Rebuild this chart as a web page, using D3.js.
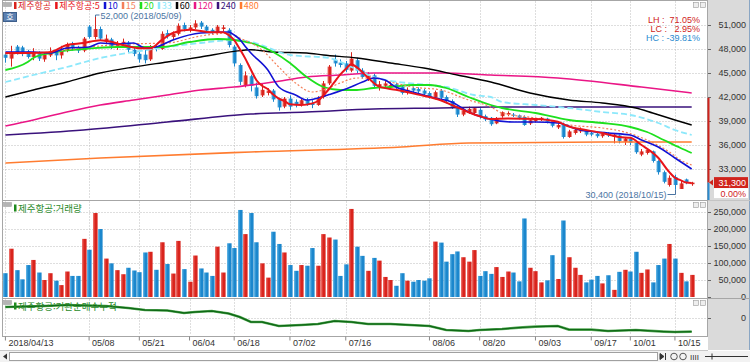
<!DOCTYPE html>
<html lang="ko">
<head>
<meta charset="utf-8">
<title>제주항공 일봉</title>
<style>
  body { margin: 0; background: #fff; }
  svg { display: block; }
  text { font-family: "Liberation Sans", Arial, sans-serif; }
  .kr { font-family: "Noto Sans CJK KR", sans-serif; }
</style>
<script src="https://d3js.org/d3.v7.min.js"></script>
</head>
<body>
<script>
// trading days shown (2018)
const dates = ["04/13","04/16","04/17","04/18","04/19","04/20","04/23","04/24","04/25","04/26","04/27","04/30",
  "05/02","05/03","05/04","05/08","05/09","05/10","05/11","05/14","05/15","05/16","05/17","05/18","05/21","05/23","05/24","05/25","05/28","05/29","05/30","05/31",
  "06/01","06/04","06/05","06/07","06/08","06/11","06/12","06/14","06/15","06/18","06/19","06/20","06/21","06/22","06/25","06/26","06/27","06/28","06/29",
  "07/02","07/03","07/04","07/05","07/06","07/09","07/10","07/11","07/12","07/13","07/16","07/17","07/18","07/19","07/20","07/23","07/24","07/25","07/26","07/27","07/30","07/31",
  "08/01","08/02","08/03","08/06","08/07","08/08","08/09","08/10","08/13","08/14","08/16","08/17","08/20","08/21","08/22","08/23","08/24","08/27","08/28","08/29","08/30","08/31",
  "09/03","09/04","09/05","09/06","09/07","09/10","09/11","09/12","09/13","09/14","09/17","09/18","09/19","09/20","09/21","09/27","09/28",
  "10/01","10/02","10/04","10/05","10/08","10/10","10/11","10/12","10/15","10/16","10/17","10/18"];

const opens = [47300,46800,48300,48200,47700,47000,47500,46700,47200,47700,47200,47800,
  48600,48200,47800,50800,49500,50500,48900,49200,48200,48600,48800,47900,47400,47300,46700,48300,48000,50000,49500,49900,
  51000,50400,50700,51300,50800,50400,50000,50500,50400,48300,46000,43500,44600,43200,42200,42500,42800,41800,40800,
  41800,41400,41000,41600,41200,41000,42000,43700,46600,46300,46200,45300,46600,45300,44200,44700,43300,43400,43200,43600,43300,42500,
  43100,43000,42800,42500,41900,42800,42000,41500,40700,39800,40100,40000,40400,39600,39400,38700,39600,39800,39800,39700,39500,38700,
  39000,39200,39300,38900,38200,38600,37000,37500,37700,37800,37500,37400,37100,37400,37000,37200,36400,
  36800,36300,34800,35000,35200,34000,32600,31000,32000,30500,31700,31100];
const highs = [47500,48400,48500,48400,47900,48100,47700,47600,48200,47900,48400,48800,
  48900,48400,49500,51000,52000,50800,49800,49400,49000,49300,49000,48200,47600,47900,48500,48600,50200,50400,50200,51200,
  51300,51000,51600,51500,51000,50600,51000,51000,50600,48500,46200,45200,44800,43800,43700,43100,43000,41900,42000,
  42200,41700,41800,41900,41600,42100,44000,46000,47300,46700,46500,47600,46900,45600,45100,44900,44000,44000,43900,43800,43500,43200,
  43300,43200,43000,42700,42800,43000,42200,41700,40900,40600,40800,40700,40600,39800,39500,39500,40200,40200,40000,39800,39700,39200,
  39400,39500,39400,39000,38700,38800,37900,38100,38200,37900,37700,37600,37600,37600,37400,37300,37000,
  37000,36400,35500,35600,35300,34100,32800,32200,32300,31500,31800,31400];
const lows = [46300,45800,47300,47100,46800,46600,46500,46400,47000,46600,46800,47600,
  47800,47500,47600,49300,49200,49000,48600,48000,47900,48300,47600,47100,46300,46200,46500,47700,47900,49300,49100,49700,
  50200,50100,50500,50500,50000,49800,49800,50200,48200,45800,43500,43200,42700,41800,42000,42200,41400,40300,40600,
  40400,40700,40800,40900,40600,40900,41800,43500,45800,45700,45100,45100,45000,44300,44000,43100,42800,43200,43000,43000,42300,42300,
  42600,42500,42200,41800,41700,41700,41200,40500,39500,39600,39900,39800,39300,39000,38400,38600,39400,39600,39500,39200,38400,38500,
  38800,39000,38700,38200,38000,36800,36900,37300,37500,37100,37100,36900,36900,37000,36200,36200,36000,
  36000,34900,34600,34800,33800,32300,31200,30800,30400,30500,31100,30900];
const closes = [46900,47600,47500,47500,47000,47500,46800,47300,47700,47200,47800,48600,
  48100,47800,49300,49500,50500,49300,49300,48300,48700,48900,47900,47400,46700,46600,48200,48000,49900,49600,49900,50900,
  50500,50700,51200,50800,50300,50000,50800,50700,48500,46200,43900,44700,43400,42100,42900,42800,41700,40700,41800,
  40800,41000,41600,41100,41000,41800,43700,45800,46200,46000,45400,46800,45300,44500,44700,43400,43600,43700,43500,43200,42500,42900,
  42800,42700,42400,42000,42600,41900,41500,40700,39800,40300,40500,40600,39500,39200,38600,39300,40100,40000,39700,39400,38500,39100,
  39300,39400,38900,38400,38500,37000,37700,37900,37900,37300,37300,37100,37400,37200,37300,36500,36800,
  36300,35100,35200,35400,34000,32600,31400,31900,31000,31200,31300,31300];
const volumes = [70,142,79,52,94,109,72,50,70,48, 35,75,62,62,171,139,247,200,113,99,
  79,67,86,78,73,131,133,80,161,97, 69,165,82,45,122,84,72,62,148,72,
  158,144,256,185,247,161,99,57,192,156, 131,94,77,94,92,144,92,185,175,169,
  62,96,259,148,121,77,115,107,59,50, 33,70,48,45,50,48,55,163,160,104,
  126,134,117,104,138,62,76,68,88,59, 75,72,46,231,86,76,43,49,123,53,
  225,117,86,65,43,51,62,40,64,21, 74,80,75,133,71,81,43,94,113,156,
  113,71,46,65].map(v => v * 1000);

// moving averages: [date, price]
const ma5 = [["04/13",47500],["04/19",47500],["04/25",47600],["04/30",48500],["05/04",48750],["05/10",49100],["05/14",48900],["05/16",48500],["05/21",48100],["05/24",48100],["05/28",49100],["05/30",50000],["06/04",50400],["06/11",50100],["06/14",50100],["06/15",49750],["06/18",49100],["06/19",48000],["06/20",46800],["06/21",45400],["06/22",44100],["06/25",43400],["06/26",43000],["06/27",42300],["06/28",41800],["06/29",41500],["07/02",41100],["07/04",41000],["07/06",41200],["07/09",41500],["07/10",42200],["07/11",43000],["07/12",43900],["07/13",44800],["07/16",45500],["07/17",46100],["07/18",45700],["07/20",44400],["07/24",43300],["07/27",42900],["08/02",42300],["08/08",41600],["08/10",41000],["08/16",40100],["08/20",39600],["08/22",39250],["08/27",39300],["09/03",39250],["09/07",38900],["09/11",38300],["09/13",38000],["09/19",37500],["09/27",37000],["10/01",36900],["10/04",36000],["10/10",34400],["10/12",32600],["10/15",31900],["10/16",31600],["10/17",31300],["10/18",31250]];
const ma10 = [["04/13",47625],["04/20",47625],["04/25",47500],["04/30",48125],["05/08",48250],["05/10",48750],["05/15",48625],["05/18",48750],["05/23",48125],["05/25",48250],["05/30",49125],["06/07",50000],["06/15",50125],["06/18",49750],["06/19",49200],["06/20",48300],["06/21",47500],["06/26",45400],["06/28",43250],["07/03",42250],["07/05",41625],["07/09",41875],["07/11",42300],["07/16",43000],["07/19",43875],["07/23",44375],["07/25",44125],["07/27",43250],["08/01",42625],["08/07",41875],["08/10",41375],["08/16",40125],["08/21",39375],["08/28",38875],["09/03",38875],["09/07",38750],["09/13",37875],["09/20",37500],["10/01",37250],["10/04",36625],["10/10",35750],["10/15",34375],["10/18",33000]];
const ma15 = [["04/13",47375],["04/25",47625],["05/08",48250],["05/17",48625],["05/29",48750],["06/07",49625],["06/15",50000],["06/19",49375],["06/25",47875],["06/28",45750],["07/03",43750],["07/06",42625],["07/10",42875],["07/13",43750],["07/18",44375],["07/23",44375],["07/26",43875],["08/01",43250],["08/08",42875],["08/16",41625],["08/22",40750],["08/24",40000],["09/03",39375],["09/11",38500],["09/19",38125],["09/28",37625],["10/05",36625],["10/12",35125],["10/16",34125],["10/18",33500]];
const ma20 = [["04/13",45375],["04/19",46375],["04/20",46875],["04/25",47500],["05/04",48000],["05/15",48250],["05/28",48250],["06/04",48875],["06/12",49250],["06/18",49125],["06/21",48750],["06/27",47625],["07/02",46250],["07/05",44500],["07/10",43250],["07/13",42875],["07/18",42875],["07/23",43125],["07/26",43250],["08/01",43500],["08/06",43500],["08/09",43125],["08/16",42000],["08/22",41000],["08/24",40625],["09/03",40000],["09/11",39125],["09/19",38750],["10/01",38250],["10/05",37625],["10/11",36625],["10/16",35625],["10/18",35000]];
const ma33 = [["04/13",43875],["04/20",44750],["04/30",45750],["05/10",46875],["05/18",47625],["05/29",48250],["06/07",48750],["06/18",49125],["06/21",48875],["07/02",47250],["07/11",46875],["07/17",45750],["07/23",44500],["07/31",43750],["08/06",43500],["08/09",43250],["08/17",42250],["08/22",42000],["08/24",41375],["09/03",41000],["09/11",40625],["09/19",40125],["10/01",39750],["10/10",38750],["10/15",37875],["10/18",37250]];
const ma60 = [["04/13",42000],["04/20",42875],["04/30",43875],["05/10",45000],["05/18",45750],["05/29",46375],["06/07",47000],["06/18",47700],["06/21",47900],["06/27",47625],["07/05",47500],["07/10",47250],["07/18",46875],["07/26",46250],["08/03",45625],["08/13",44750],["08/22",43875],["08/31",42500],["09/11",41625],["09/19",41250],["10/02",40625],["10/08",40000],["10/15",39125],["10/18",38500]];
const ma120 = [["04/13",38375],["04/20",39125],["04/30",40125],["05/10",41000],["05/18",41625],["05/29",42250],["06/07",42875],["06/18",43250],["06/27",43875],["07/05",44500],["07/13",44750],["07/23",45000],["07/31",45000],["08/08",45000],["08/22",44750],["09/07",44375],["10/04",43250],["10/18",42500]];
const ma240 = [["04/13",37250],["05/04",37875],["05/29",38875],["06/21",39875],["07/05",40125],["07/23",40500],["08/08",40625],["08/22",40750],["09/19",40750],["10/18",40750]];
const ma480 = [["04/13",33750],["05/10",34375],["06/21",35125],["07/30",35750],["08/16",36250],["09/19",36375],["10/18",36375]];

// 기관순매수누적 (cumulative institutional net buying, shares)
const instCum = [["04/13",55000],["04/24",60000],["04/30",65000],["05/11",60000],["05/17",50000],["05/23",40000],["05/29",37500],["06/01",25000],["06/05",30000],["06/11",35000],["06/15",22500],["06/19",5000],["06/21",-20000],["06/25",-20000],["06/28",-40000],["07/04",-35000],["07/09",-30000],["07/12",-15000],["07/17",-20000],["07/20",-30000],["07/26",-30000],["08/06",-40000],["08/09",-60000],["08/16",-65000],["08/20",-60000],["08/24",-55000],["08/29",-48000],["09/03",-43000],["09/07",-40000],["09/11",-58000],["09/17",-58000],["09/20",-65000],["10/02",-60000],["10/11",-68000],["10/15",-70000],["10/18",-68000]];

const tickDates  = ["04/13","05/08","05/21","06/04","06/18","07/02","07/16","08/06","08/20","09/03","09/17","10/01","10/15"];
const tickLabels = ["2018/04/13","05/08","05/21","06/04","06/18","07/02","07/16","08/06","08/20","09/03","09/17","10/01","10/15"];
const priceTicks  = [33000,36000,39000,42000,45000,48000,51000];
const volumeTicks = [0,50000,100000,150000,200000,250000];
const instTicks   = [0];

const red = '#d9241d', blue = '#1b87cd', gridColor = '#bdbdbd';

const maSeries = [
  { label: '480', data: ma480, color: '#ff7c30', width: 1.6 },
  { label: '240', data: ma240, color: '#3a127c', width: 1.6 },
  { label: '120', data: ma120, color: '#ea1686', width: 1.6 },
  { label: '60',  data: ma60,  color: '#000000', width: 1.4 },
  { label: '33',  data: ma33,  color: '#8ce8fb', width: 1.8, dash: '6,3' },
  { label: '20',  data: ma20,  color: '#1ee01e', width: 1.8 },
  { label: '15',  data: ma15,  color: '#f4805a', width: 1.2, dash: '2,2' },
  { label: '10',  data: ma10,  color: '#1212d4', width: 1.6 },
  { label: '5',   data: ma5,   color: '#e8141a', width: 2 }
];

const plotL = 2.5, plotR = 707.5, axisL = 708;
const mainP = { top: 0.5, bottom: 200.5 },
      volP  = { top: 200.5, bottom: 298.5 },
      instP = { top: 298.5, bottom: 336.5 };

const svg = d3.select('body').append('svg').attr('width', 750).attr('height', 362);

svg.append('rect').attr('width', 750).attr('height', 362).attr('fill', '#fff');
svg.append('rect').attr('x', axisL).attr('y', 0).attr('width', 42).attr('height', 350).attr('fill', '#dadada');
svg.append('line').attr('x1', 749.5).attr('x2', 749.5).attr('y1', 0).attr('y2', 350).attr('stroke', '#8aa6c4');

const defs = svg.append('defs');
[['gRed', '#f07a74', red], ['gBlue', '#6cbbe8', blue]].forEach(([id, c0, c1]) => {
  const g = defs.append('linearGradient').attr('id', id);
  g.append('stop').attr('offset', '0%').attr('stop-color', c0);
  g.append('stop').attr('offset', '45%').attr('stop-color', c1);
  g.append('stop').attr('offset', '100%').attr('stop-color', c1);
});

const x = d3.scaleBand().domain(dates).range([3.4, 693.7]).paddingInner(0.28);
const cx = d => x(d) + x.bandwidth() / 2;
const y = d3.scaleLinear().domain([33000, 51000]).range([169, 25]);
const yVol = d3.scaleLinear().domain([0, 250000]).range([297, 212]);
const yInst = d3.scaleLinear().domain([-85000, 90000]).range([335, 300]);

// panel frames + grids
[mainP, volP, instP].forEach((p, k) => {
  svg.append('rect').attr('x', plotL).attr('y', p.top).attr('width', plotR - plotL).attr('height', p.bottom - p.top)
    .attr('fill', 'none').attr('stroke', '#a6a6a6');
  svg.append('g').selectAll('line').data(tickDates).join('line')
    .attr('x1', d => Math.round(cx(d)) + 0.5).attr('x2', d => Math.round(cx(d)) + 0.5)
    .attr('y1', p.top + 1).attr('y2', p.bottom - 1)
    .attr('stroke', gridColor).attr('stroke-dasharray', '1,2');
  const ys = [y, yVol, yInst][k], tv = [priceTicks, volumeTicks.slice(1), instTicks][k];
  svg.append('g').selectAll('line').data(tv).join('line')
    .attr('x1', plotL).attr('x2', plotR)
    .attr('y1', d => Math.round(ys(d)) + 0.5).attr('y2', d => Math.round(ys(d)) + 0.5)
    .attr('stroke', gridColor).attr('stroke-dasharray', '1,2');
});

svg.append('clipPath').attr('id', 'clipMain').append('rect').attr('x', plotL).attr('y', 1).attr('width', plotR - plotL).attr('height', 199);

// candles
const idx = d3.range(dates.length);
const candles = svg.append('g').attr('clip-path', 'url(#clipMain)');
const up = i => closes[i] >= opens[i];
const col = i => up(i) ? red : blue;
candles.selectAll('line').data(idx).join('line')
  .attr('x1', i => Math.round(cx(dates[i])) + 0.5).attr('x2', i => Math.round(cx(dates[i])) + 0.5)
  .attr('y1', i => y(highs[i])).attr('y2', i => y(lows[i]))
  .attr('stroke', col);
candles.selectAll('rect').data(idx).join('rect')
  .attr('x', i => Math.round(cx(dates[i])) - 1.5).attr('width', 4)
  .attr('y', i => y(Math.max(opens[i], closes[i])))
  .attr('height', i => Math.max(1, y(Math.min(opens[i], closes[i])) - y(Math.max(opens[i], closes[i]))))
  .attr('fill', i => up(i) ? 'url(#gRed)' : 'url(#gBlue)');

// moving averages
const line = d3.line().x(d => cx(d[0])).y(d => y(d[1])).curve(d3.curveMonotoneX);
const maG = svg.append('g').attr('clip-path', 'url(#clipMain)');
maSeries.forEach(s => {
  maG.append('path').attr('d', line(s.data)).attr('fill', 'none')
    .attr('stroke', s.color).attr('stroke-width', s.width)
    .attr('stroke-dasharray', s.dash || null);
});

// volume bars
svg.append('g').selectAll('rect').data(idx).join('rect')
  .attr('x', i => Math.round(cx(dates[i])) - 2).attr('width', 4.6)
  .attr('y', i => yVol(volumes[i])).attr('height', i => yVol(0) - yVol(volumes[i]))
  .attr('fill', i => up(i) ? 'url(#gRed)' : 'url(#gBlue)');

// institutional cumulative line
const instLine = d3.line().x(d => cx(d[0])).y(d => yInst(d[1]));
svg.append('path').attr('d', instLine(instCum)).attr('fill', 'none').attr('stroke', '#5fb05f').attr('stroke-width', 2.6);
svg.append('path').attr('d', instLine(instCum)).attr('fill', 'none').attr('stroke', '#0f6a16').attr('stroke-width', 1.4);

// right axes
function rightAxis(scale, values, fmt) {
  const g = svg.append('g').attr('transform', `translate(${axisL},0)`)
    .call(d3.axisRight(scale).tickValues(values).tickFormat(fmt).tickSize(3));
  g.select('.domain').remove();
  g.selectAll('line').attr('stroke', '#666');
  g.selectAll('text').attr('x', 38).attr('text-anchor', 'end')
    .attr('font-size', 9).attr('fill', '#333').attr('font-family', '"Liberation Sans", Arial, sans-serif');
  return g;
}
rightAxis(y, priceTicks, d3.format(','));
rightAxis(yVol, volumeTicks, d3.format(','));
rightAxis(yInst, instTicks, d3.format(','));
svg.append('line').attr('x1', axisL).attr('x2', 750).attr('y1', 298.5).attr('y2', 298.5).attr('stroke', '#a6a6a6');
svg.append('line').attr('x1', axisL).attr('x2', 750).attr('y1', 200.5).attr('y2', 200.5).attr('stroke', '#c4c4c4');

// current price marker
const last = closes[closes.length - 1];
svg.append('line').attr('x1', 708.5).attr('x2', 708.5).attr('y1', y(41900)).attr('y2', y(last)).attr('stroke', '#d0231c').attr('stroke-width', 2);
svg.append('line').attr('x1', 708.5).attr('x2', 708.5).attr('y1', y(last)).attr('y2', 200).attr('stroke', '#2a8bd0').attr('stroke-width', 2);
svg.append('path').attr('d', `M709,${y(last)}l4,-3v6z`).attr('fill', '#d0231c');
svg.append('rect').attr('x', 714).attr('y', y(last) - 5.5).attr('width', 34).attr('height', 11).attr('fill', '#d0231c');
svg.append('text').attr('x', 746).attr('y', y(last) + 3.5).attr('text-anchor', 'end').attr('font-size', 9)
  .attr('fill', '#fff').text(d3.format(',')(last));
svg.append('rect').attr('x', 714).attr('y', y(last) + 5.5).attr('width', 34).attr('height', 10).attr('fill', '#fff');
svg.append('text').attr('x', 746).attr('y', y(last) + 14).attr('text-anchor', 'end').attr('font-size', 9)
  .attr('fill', '#d0231c').text('0.00%');

// x axis
const xg = svg.append('g').attr('transform', 'translate(0,336.5)')
  .call(d3.axisBottom(x).tickValues(tickDates).tickFormat((d, i) => tickLabels[i]).tickSize(4));
xg.select('.domain').remove();
xg.selectAll('line').attr('stroke', '#888');
xg.selectAll('text').attr('x', 3).attr('y', 3).attr('text-anchor', 'start')
  .attr('font-size', 9).attr('fill', '#333').attr('font-family', '"Liberation Sans", Arial, sans-serif');
svg.append('line').attr('x1', 0).attr('x2', 708).attr('y1', 350.5).attr('y2', 350.5).attr('stroke', '#c8c8c8');

// scroll bar
svg.append('rect').attr('x', 0).attr('y', 351).attr('width', 750).attr('height', 11).attr('fill', '#f2f2f2');
svg.append('rect').attr('x', 9.5).attr('y', 352.5).attr('width', 648).attr('height', 8).attr('fill', '#fff').attr('stroke', '#a0a0a0');
svg.append('path').attr('d', 'M3,356.5l4,-3v6z').attr('fill', '#333');
svg.append('path').attr('d', 'M664,356.5l-4,-3v6z M665.5,353v7').attr('fill', '#333').attr('stroke', '#333');
[674, 683].forEach(cxx => svg.append('circle').attr('cx', cxx).attr('cy', 356.5).attr('r', 3.3).attr('fill', 'none').attr('stroke', '#555'));
svg.append('text').attr('x', 690).attr('y', 360).attr('font-size', 8).attr('fill', '#333').text('IIII');
svg.append('path').attr('d', 'M705,356.5h43 M712,353.5v6').attr('stroke', '#333');

// panel icons
[mainP, volP, instP].forEach(p => {
  svg.append('rect').attr('x', 3.5).attr('y', p.top + 2).attr('width', 8).attr('height', 4).attr('fill', '#b4b4b4').attr('stroke', '#999').attr('stroke-width', 0.5);
  svg.append('rect').attr('x', 693.5).attr('y', p.top + 2).attr('width', 5).attr('height', 5).attr('fill', '#eee').attr('stroke', '#999').attr('stroke-width', 0.6);
  svg.append('rect').attr('x', 700.5).attr('y', p.top + 2).attr('width', 5).attr('height', 5).attr('fill', '#eee').attr('stroke', '#999').attr('stroke-width', 0.6);
});

// legend of main panel
const legendItems = [{ label: '제주항공', color: red }, { label: '제주항공:5', color: '#e8141a' }]
  .concat(maSeries.slice().reverse().slice(1).map(s => ({ label: s.label, color: s.color })));
let lx = 14;
legendItems.forEach(it => {
  svg.append('rect').attr('x', lx).attr('y', 2).attr('width', 2.5).attr('height', 7).attr('fill', it.color);
  const t = svg.append('text').attr('class', 'kr').attr('x', lx + 4).attr('y', 9).attr('font-size', 9)
    .attr('fill', it.color).text(it.label);
  lx += 4 + t.node().getComputedTextLength() + 4;
});

svg.append('rect').attr('x', 3.5).attr('y', 12.5).attr('width', 13).attr('height', 9).attr('fill', '#5b80b0').attr('stroke', '#3e5f8c');
svg.append('text').attr('class', 'kr').attr('x', 10).attr('y', 20).attr('text-anchor', 'middle').attr('font-size', 8).attr('fill', '#fff').text('호');

// high / low annotations
const hiIdx = highs.indexOf(d3.max(highs)), loIdx = lows.indexOf(d3.min(lows));
const hx = Math.round(cx(dates[hiIdx])) + 0.5;
svg.append('path').attr('d', `M${hx},${y(highs[hiIdx])}V15H${hx + 4}`).attr('fill', 'none').attr('stroke', '#4a74a2');
svg.append('text').attr('x', hx + 5).attr('y', 18.5).attr('font-size', 9).attr('fill', '#4a74a2')
  .text(`${d3.format(',')(highs[hiIdx])} (2018/${dates[hiIdx]})`);
const lxp = Math.round(cx(dates[loIdx])) + 0.5;
svg.append('path').attr('d', `M${lxp - 8},194.5H${lxp}V${y(lows[loIdx])}`).attr('fill', 'none').attr('stroke', '#4a74a2');
svg.append('text').attr('x', lxp - 9).attr('y', 197.5).attr('text-anchor', 'end').attr('font-size', 9).attr('fill', '#4a74a2')
  .text(`${d3.format(',')(lows[loIdx])} (2018/${dates[loIdx]})`);

// LH / LC / HC box
const info = [['LH :  71.05%', '#d0231c'], ['LC :   2.95%', '#d0231c'], ['HC : -39.81%', '#2a8bd0']];
info.forEach((r, i) => svg.append('text').attr('x', 700).attr('y', 23 + i * 9).attr('text-anchor', 'end')
  .attr('font-size', 9).attr('font-family', '"Liberation Mono", monospace').attr('xml:space', 'preserve')
  .attr('fill', r[1]).text(r[0]));

// sub panel titles
[[volP, '제주항공:거래량'], [instP, '제주항공:기관순매수누적']].forEach(([p, label]) => {
  svg.append('rect').attr('x', 14).attr('y', p.top + 4).attr('width', 2.5).attr('height', 7).attr('fill', '#1f8a1f');
  svg.append('text').attr('class', 'kr').attr('x', 18).attr('y', p.top + 11).attr('font-size', 9.5)
    .attr('fill', '#2a8a2a').text(label);
});
</script>
</body>
</html>
